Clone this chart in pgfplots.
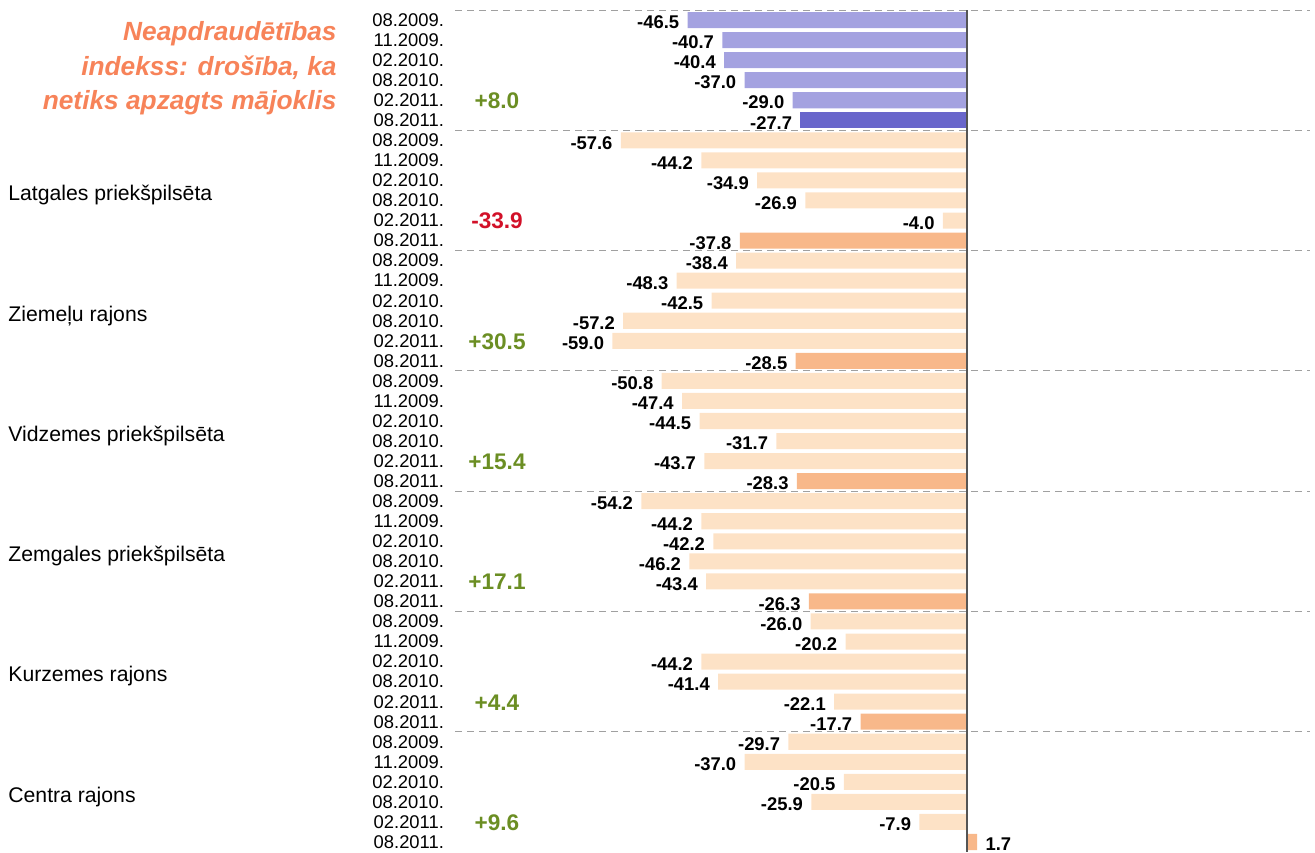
\documentclass[border=0pt]{standalone}
\usepackage{fontspec}
\setmainfont{Liberation Sans}
\usepackage{pgfplots}
\pgfplotsset{compat=1.18}

\definecolor{lavlight}{RGB}{164,162,224}
\definecolor{lavdark}{RGB}{105,102,203}
\definecolor{peachlight}{RGB}{253,226,198}
\definecolor{peachdark}{RGB}{248,184,138}
\definecolor{titlecol}{RGB}{247,131,89}
\definecolor{upcol}{RGB}{107,142,35}
\definecolor{downcol}{RGB}{210,16,40}

\begin{document}
\begin{tikzpicture}
\useasboundingbox (0,0) rectangle (657.5pt,-426pt);

\begin{axis}[
    at={(227.5pt,-5pt)}, anchor=north west,
    scale only axis, width=427.5pt, height=421pt,
    xbar, bar width=0.8,
    xmin=-85.2, xmax=57.1,
    ymin=-0.5, ymax=41.5, y dir=reverse,
    enlargelimits=false,
    axis line style={draw=none},
    major tick length=0pt,
    xtick=\empty,
    extra x ticks={0}, extra x tick labels={},
    extra x tick style={grid=major, major grid style={draw={rgb,255:red,85;green,85;blue,85}, line width=0.8pt}},
    ytick={0,...,41},
    yticklabels={08.2009.,11.2009.,02.2010.,08.2010.,02.2011.,08.2011.,
                 08.2009.,11.2009.,02.2010.,08.2010.,02.2011.,08.2011.,
                 08.2009.,11.2009.,02.2010.,08.2010.,02.2011.,08.2011.,
                 08.2009.,11.2009.,02.2010.,08.2010.,02.2011.,08.2011.,
                 08.2009.,11.2009.,02.2010.,08.2010.,02.2011.,08.2011.,
                 08.2009.,11.2009.,02.2010.,08.2010.,02.2011.,08.2011.,
                 08.2009.,11.2009.,02.2010.,08.2010.,02.2011.,08.2011.},
    yticklabel style={font=\fontsize{9.2}{10}\selectfont, anchor=east, xshift=-2pt},
    extra y ticks={-0.5,5.5,11.5,17.5,23.5,29.5,35.5}, extra y tick labels={},
    extra y tick style={grid=major, major grid style={draw={rgb,255:red,160;green,160;blue,160}, line width=0.5pt, dash pattern=on 3.5pt off 2.5pt}},
    axis on top,
    clip=false,
    point meta=x,
    nodes near coords,
    nodes near coords align=horizontal,
    /pgf/number format/fixed,
    /pgf/number format/fixed zerofill,
    /pgf/number format/precision=1,
    /pgf/number format/assume math mode=true,
    every node near coord/.append style={font=\fontsize{9.2}{10}\selectfont\bfseries, text=black, inner xsep=4pt, inner ysep=1pt, yshift=-1.2pt},
]
\addplot[fill=lavlight, draw=none, bar shift=0pt] coordinates {
    (-46.5,0) (-40.7,1) (-40.4,2) (-37.0,3) (-29.0,4)};
\addplot[fill=lavdark, draw=none, bar shift=0pt] coordinates {
    (-27.7,5)};
\addplot[fill=peachlight, draw=none, bar shift=0pt] coordinates {
    (-57.6,6)  (-44.2,7)  (-34.9,8)  (-26.9,9)  (-4.0,10)
    (-38.4,12) (-48.3,13) (-42.5,14) (-57.2,15) (-59.0,16)
    (-50.8,18) (-47.4,19) (-44.5,20) (-31.7,21) (-43.7,22)
    (-54.2,24) (-44.2,25) (-42.2,26) (-46.2,27) (-43.4,28)
    (-26.0,30) (-20.2,31) (-44.2,32) (-41.4,33) (-22.1,34)
    (-29.7,36) (-37.0,37) (-20.5,38) (-25.9,39) (-7.9,40)};
\addplot[fill=peachdark, draw=none, bar shift=0pt] coordinates {
    (-37.8,11) (-28.5,17) (-28.3,23) (-26.3,29) (-17.7,35) (1.7,41)};
\end{axis}

% title
\begin{scope}[every node/.style={anchor=base east, inner sep=0pt, text=titlecol,
    font=\fontsize{13.15}{15}\selectfont\bfseries\itshape}]
\node at (168.5pt,-20pt) {Neapdraudētības};
\node at (168.5pt,-37.5pt) {indekss: drošība, ka};
\node at (168.5pt,-54.5pt) {netiks apzagts mājoklis};
\end{scope}

% district names
\begin{scope}[every node/.style={anchor=mid west, inner sep=0pt,
    font=\fontsize{10.6}{12}\selectfont}]
\node at (4pt,-97.7pt)  {Latgales priekšpilsēta};
\node at (4pt,-157.9pt) {Ziemeļu rajons};
\node at (4pt,-218.0pt) {Vidzemes priekšpilsēta};
\node at (4pt,-278.2pt) {Zemgales priekšpilsēta};
\node at (4pt,-338.3pt) {Kurzemes rajons};
\node at (4pt,-398.5pt) {Centra rajons};
\end{scope}

% changes
\begin{scope}[every node/.style={anchor=mid, inner sep=0pt,
    font=\fontsize{11.3}{13}\selectfont\bfseries}]
\node[text=upcol]   at (248.5pt,-51.6pt)  {+8.0};
\node[text=downcol] at (248.5pt,-111.8pt) {-33.9};
\node[text=upcol]   at (248.5pt,-171.9pt) {+30.5};
\node[text=upcol]   at (248.5pt,-232.1pt) {+15.4};
\node[text=upcol]   at (248.5pt,-292.2pt) {+17.1};
\node[text=upcol]   at (248.5pt,-352.4pt) {+4.4};
\node[text=upcol]   at (248.5pt,-412.5pt) {+9.6};
\end{scope}
\end{tikzpicture}
\end{document}
